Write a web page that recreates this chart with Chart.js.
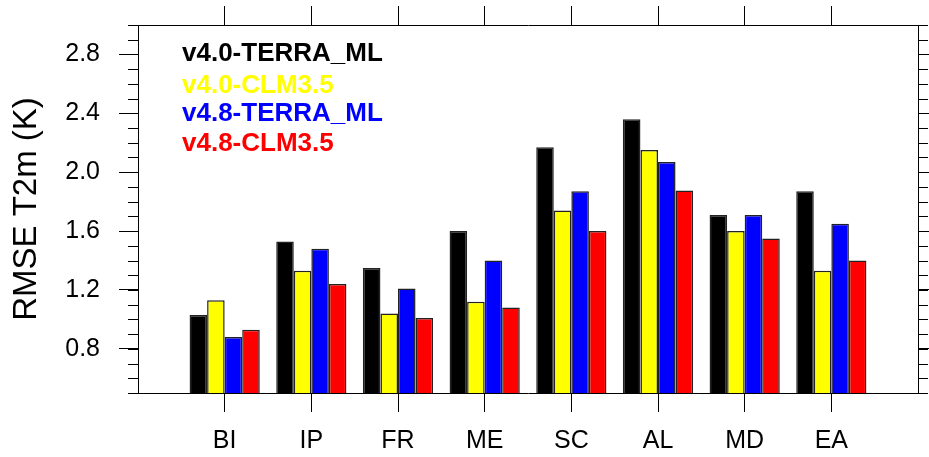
<!DOCTYPE html>
<html>
<head>
<meta charset="utf-8">
<script src="https://cdn.jsdelivr.net/npm/chart.js@4/dist/chart.umd.min.js"></script>
<style>
  html, body { margin: 0; padding: 0; background: #ffffff; }
  #wrap { width: 929px; height: 457px; }
</style>
</head>
<body>
<div id="wrap"><canvas id="c" width="929" height="457"></canvas></div>
<script>
// Regions and RMSE of 2 m temperature (K) per model configuration
const categories = ['BI', 'IP', 'FR', 'ME', 'SC', 'AL', 'MD', 'EA'];
const v40TerraML = [1.03, 1.53, 1.35, 1.60, 2.17, 2.36, 1.71, 1.87];
const v40CLM35   = [1.13, 1.33, 1.04, 1.12, 1.74, 2.15, 1.60, 1.33];
const v48TerraML = [0.88, 1.48, 1.21, 1.40, 1.87, 2.07, 1.71, 1.65];
const v48CLM35   = [0.93, 1.24, 1.01, 1.08, 1.60, 1.875, 1.55, 1.40];
const seriesNames = ['v4.0-TERRA_ML', 'v4.0-CLM3.5', 'v4.8-TERRA_ML', 'v4.8-CLM3.5'];
const seriesColors = ['#000000', '#ffff00', '#0000ff', '#ff0000'];
const yMajorTicks = [0.8, 1.2, 1.6, 2.0, 2.4, 2.8];
const yMin = 0.5, yMax = 3.0;

// Empty slots at both ends leave half-gaps beside the first and last region
const xLabels = [''].concat(categories, ['']);
const pad = arr => [null].concat(arr, [null]);
const allSeries = [v40TerraML, v40CLM35, v48TerraML, v48CLM35];

const FONT = '"Liberation Sans", Arial, Helvetica, sans-serif';

const datasets = allSeries.map((vals, i) => ({
  label: seriesNames[i],
  data: pad(vals),
  backgroundColor: seriesColors[i],
  borderColor: '#222222',
  borderWidth: 1.5,
  categoryPercentage: 0.81,
  barPercentage: 1.0
}));

const majorTicks = scale => { scale.ticks = yMajorTicks.map(v => ({ value: v })); };
const hideEnds = ctx => (ctx.index === 0 || ctx.index === xLabels.length - 1) ? 'rgba(0,0,0,0)' : '#000000';
const noPad = s => { s.paddingTop = 0; s.paddingBottom = 0; s.paddingLeft = 0; s.paddingRight = 0; };

// Short minor tick marks every 0.1 K on both vertical axes
const minorTicks = {
  id: 'minorTicks',
  afterDraw(chart) {
    const y = chart.scales.y;
    const area = chart.chartArea;
    const ctx = chart.ctx;
    ctx.save();
    ctx.strokeStyle = '#000000';
    ctx.lineWidth = 1;
    ctx.beginPath();
    for (let i = 0; i <= 25; i++) {
      const v = (5 + i) / 10;
      const py = Math.round(y.getPixelForValue(v)) + 0.5;
      ctx.moveTo(area.left - 10, py); ctx.lineTo(area.left, py);
      ctx.moveTo(area.right, py); ctx.lineTo(area.right + 10, py);
    }
    ctx.stroke();
    ctx.restore();
  }
};

// Series names written in their bar colours inside the plot
const textLegend = {
  id: 'textLegend',
  afterDraw(chart) {
    const ctx = chart.ctx;
    const rows = [54, 86, 114, 144];
    ctx.save();
    ctx.font = 'bold 26px ' + FONT;
    ctx.textAlign = 'left';
    ctx.textBaseline = 'middle';
    chart.data.datasets.forEach((ds, i) => {
      ctx.fillStyle = ds.backgroundColor;
      ctx.fillText(ds.label, 182, rows[i]);
    });
    ctx.restore();
  }
};

new Chart(document.getElementById('c'), {
  type: 'bar',
  data: { labels: xLabels, datasets },
  options: {
    responsive: false,
    animation: false,
    devicePixelRatio: 1,
    layout: { padding: 0 },
    plugins: { legend: { display: false }, tooltip: { enabled: false } },
    scales: {
      x: {
        type: 'category',
        position: 'bottom',
        offset: false,
        grid: { offset: false, drawOnChartArea: false, drawTicks: true, tickLength: 19, color: hideEnds, lineWidth: 1 },
        border: { display: true, color: '#000000', width: 1 },
        ticks: { color: '#000000', font: { family: FONT, size: 25 }, padding: 14, maxRotation: 0, autoSkip: false },
        afterFit: s => { s.height = 64; noPad(s); }
      },
      x2: {
        type: 'category',
        position: 'top',
        labels: xLabels,
        offset: false,
        grid: { offset: false, drawOnChartArea: false, drawTicks: true, tickLength: 19, color: hideEnds, lineWidth: 1 },
        border: { display: true, color: '#000000', width: 1 },
        ticks: { display: false },
        afterFit: s => { s.height = 25; noPad(s); }
      },
      y: {
        type: 'linear',
        position: 'left',
        min: yMin, max: yMax,
        afterBuildTicks: majorTicks,
        grid: { drawOnChartArea: false, drawTicks: true, tickLength: 19, color: '#000000', lineWidth: 1 },
        border: { display: true, color: '#000000', width: 1 },
        ticks: { color: '#000000', font: { family: FONT, size: 25 }, padding: 19, callback: v => Number(v).toFixed(1) },
        title: { display: true, text: 'RMSE T2m (K)', color: '#000000', font: { family: FONT, size: 33 }, padding: { top: 7, bottom: 0 } },
        afterFit: s => { s.width = 138; noPad(s); }
      },
      y2: {
        type: 'linear',
        position: 'right',
        min: yMin, max: yMax,
        afterBuildTicks: majorTicks,
        grid: { drawOnChartArea: false, drawTicks: true, tickLength: 19, color: '#000000', lineWidth: 1 },
        border: { display: true, color: '#000000', width: 1 },
        ticks: { display: false },
        afterFit: s => { s.width = 11; noPad(s); }
      }
    }
  },
  plugins: [minorTicks, textLegend]
});
</script>
</body>
</html>
